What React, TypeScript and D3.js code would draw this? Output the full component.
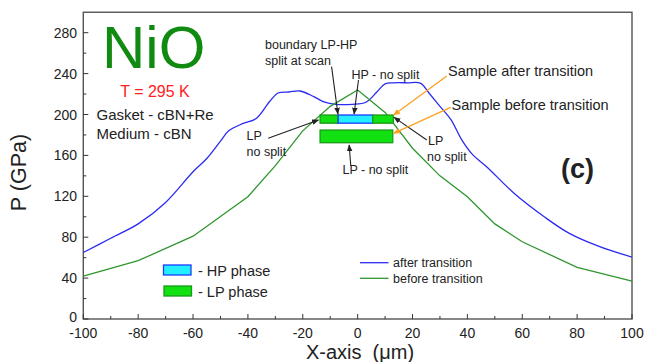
import React from 'react';
import * as d3 from 'd3';

// pressure profiles (X in um, P in GPa)
const afterX = [-100, -90, -80, -70, -60, -55, -50, -47, -42, -37, -32, -29, -25, -21, -16, -12, -8, -2, 3, 7, 10, 13, 18, 23, 26, 30, 34, 38, 42, 47, 57, 68, 77, 88, 100];
const afterP = [65, 79, 93, 114, 144, 157, 174, 184, 191, 196, 213, 221, 222, 223, 217.5, 212, 210, 210, 212, 222, 230, 231, 231, 230.5, 221, 208, 195, 175, 160.5, 149, 123, 100, 84, 71, 60.5];

const beforeX = [-100, -80, -60, -40, -30, -20, -10, 0, 10, 20, 30, 40, 50, 60, 80, 100];
const beforeP = [42, 57, 81, 119.6, 150, 184, 208, 224, 202, 167, 140, 119.5, 93, 75.5, 50.5, 37];

const xTicks = [-100, -80, -60, -40, -20, 0, 20, 40, 60, 80, 100];
const yTicks = [0, 40, 80, 120, 160, 200, 240, 280];

// sample bars: [x0, x1, phase]
const afterBar: [number, number, string][] = [[-13.7, -7.1, 'LP'], [-7.1, 5.5, 'HP'], [5.5, 13, 'LP']];
const afterBarP = [191.5, 199.5];
const beforeBar: [number, number, string][] = [[-13.7, 12.8, 'LP']];
const beforeBarP = [172.4, 184.8];

// arrows [x1, p1, x2, p2]
const blackArrows = [
  [-9.5, 246.8, -7.2, 200.5],
  [0.3, 233.7, -1.3, 200.5],
  [-32.6, 176.7, -14.3, 194.6],
  [25.2, 175, 13.3, 197.2],
  [-2.5, 149.6, -3.1, 170.2],
];
const orangeArrows = [
  [32.5, 237.7, 13.1, 199.5],
  [33.9, 207, 13.1, 181.6],
];

const W = 645;
const H = 362;
const font = 'Liberation Sans, Arial, sans-serif';
const blue = '#2b2bf2';
const green = '#2f962f';
const lpFill = '#11e011';
const lpStroke = '#1a9a1a';
const hpFill = '#22eeff';
const hpStroke = '#1a3cff';

export default function App() {
  const x = d3.scaleLinear().domain([-100, 100]).range([83.3, 632]);
  const y = d3.scaleLinear().domain([0, 300]).range([319, 12.25]);

  const after = d3.line<number>().x((d, i) => x(afterX[i])).y((d) => y(d)).curve(d3.curveCatmullRom.alpha(0.5));
  const before = d3.line<number>().x((d, i) => x(beforeX[i])).y((d) => y(d));

  const xMinor = d3.range(-90, 100, 20);
  const yMinor = d3.range(20, 300, 40);

  const bar = (segs: [number, number, string][], p: number[]) =>
    segs.map(([a, b, ph], i) => (
      <rect key={i} x={x(a)} y={y(p[1])} width={x(b) - x(a)} height={y(p[0]) - y(p[1])}
        fill={ph === 'HP' ? hpFill : lpFill} stroke={ph === 'HP' ? hpStroke : lpStroke} strokeWidth={1.3} />
    ));

  const txt = { fontFamily: font, fill: '#222' };

  return (
    <svg width={W} height={H} style={{ position: 'fixed', left: 0, top: 0, background: '#fff' }}>
      <defs>
        <marker id="ab" viewBox="0 0 10 10" refX="9" refY="5" markerWidth="7" markerHeight="7" orient="auto" markerUnits="userSpaceOnUse">
          <path d="M0,1 L10,5 L0,9 Z" fill="#222" />
        </marker>
        <marker id="ao" viewBox="0 0 10 10" refX="9" refY="5" markerWidth="7" markerHeight="7" orient="auto" markerUnits="userSpaceOnUse">
          <path d="M0,1 L10,5 L0,9 Z" fill="#ffa020" />
        </marker>
      </defs>

      {/* frame */}
      <rect x={x(-100)} y={y(300)} width={x(100) - x(-100)} height={y(0) - y(300)} fill="none" stroke="#555" strokeWidth={1.4} />

      {/* ticks */}
      {xTicks.map((t) => (
        <g key={'x' + t}>
          <line x1={x(t)} x2={x(t)} y1={y(0)} y2={y(0) - 5} stroke="#333" />
          <text x={x(t)} y={337.8} textAnchor="middle" fontSize={14} style={txt}>{t}</text>
        </g>
      ))}
      {xMinor.map((t) => <line key={'xm' + t} x1={x(t)} x2={x(t)} y1={y(0)} y2={y(0) - 3} stroke="#333" />)}
      {yTicks.map((t) => (
        <g key={'y' + t}>
          <line x1={x(-100)} x2={x(-100) + 5} y1={y(t)} y2={y(t)} stroke="#333" />
          <text x={77} y={y(t) + (t === 0 ? 2.5 : 5)} textAnchor="end" fontSize={14} style={txt}>{t}</text>
        </g>
      ))}
      {yMinor.map((t) => <line key={'ym' + t} x1={x(-100)} x2={x(-100) + 3} y1={y(t)} y2={y(t)} stroke="#333" />)}

      {/* axis titles */}
      <text x={360} y={359} textAnchor="middle" fontSize={20} style={{ ...txt, whiteSpace: 'pre' }}>X-axis  (μm)</text>
      <text transform="translate(25.5,172.5) rotate(-90)" textAnchor="middle" fontSize={21.5} style={txt}>P (GPa)</text>

      {/* curves */}
      <path d={after(afterP) || ''} fill="none" stroke={blue} strokeWidth={1.3} />
      <path d={before(beforeP) || ''} fill="none" stroke={green} strokeWidth={1.3} />

      {/* sample bars */}
      {bar(afterBar, afterBarP)}
      {bar(beforeBar, beforeBarP)}

      {/* arrows */}
      {blackArrows.map((a, i) => (
        <line key={'b' + i} x1={x(a[0])} y1={y(a[1])} x2={x(a[2])} y2={y(a[3])} stroke="#222" strokeWidth={1.1} markerEnd="url(#ab)" />
      ))}
      {orangeArrows.map((a, i) => (
        <line key={'o' + i} x1={x(a[0])} y1={y(a[1])} x2={x(a[2])} y2={y(a[3])} stroke="#ffa020" strokeWidth={1.3} markerEnd="url(#ao)" />
      ))}

      {/* annotations */}
      <text x={102} y={68} fontSize={60} style={{ fontFamily: font, fill: '#118a11' }}>NiO</text>
      <text x={155} y={96.5} textAnchor="middle" fontSize={16} style={{ fontFamily: font, fill: '#ff2020' }}>T = 295 K</text>
      <text x={96.5} y={120} fontSize={15} style={txt}>Gasket - cBN+Re</text>
      <text x={96.5} y={138.5} fontSize={15} style={txt}>Medium - cBN</text>
      <text x={265} y={49} fontSize={12.5} style={txt}>boundary LP-HP</text>
      <text x={265} y={65} fontSize={12.5} style={txt}>split at scan</text>
      <text x={351.5} y={78.5} fontSize={12.5} style={txt}>HP - no split</text>
      <text x={246.5} y={140} fontSize={12.5} style={txt}>LP</text>
      <text x={246.5} y={156} fontSize={12.5} style={txt}>no split</text>
      <text x={428} y={145} fontSize={12.5} style={txt}>LP</text>
      <text x={427} y={160.5} fontSize={12.5} style={txt}>no split</text>
      <text x={342.5} y={173.5} fontSize={12.5} style={txt}>LP - no split</text>
      <text x={448} y={76} fontSize={14.5} style={txt}>Sample after transition</text>
      <text x={451.5} y={110} fontSize={14.5} style={txt}>Sample before transition</text>
      <text x={561} y={178} fontSize={27} fontWeight="bold" style={txt}>(c)</text>

      {/* phase legend */}
      <rect x={163.5} y={265} width={27.5} height={10} fill={hpFill} stroke={hpStroke} strokeWidth={1.3} />
      <text x={198} y={275.5} fontSize={14.5} style={txt}>- HP phase</text>
      <rect x={164} y={286} width={27.5} height={10} fill={lpFill} stroke={lpStroke} strokeWidth={1.3} />
      <text x={198} y={296.5} fontSize={14.5} style={txt}>- LP phase</text>

      {/* line legend */}
      <line x1={360} x2={388.5} y1={262.7} y2={262.7} stroke={blue} strokeWidth={1.3} />
      <text x={393} y={267} fontSize={12.5} style={txt}>after transition</text>
      <line x1={360} x2={388.5} y1={278.3} y2={278.3} stroke={green} strokeWidth={1.3} />
      <text x={393} y={283} fontSize={12.5} style={txt}>before transition</text>
    </svg>
  );
}
